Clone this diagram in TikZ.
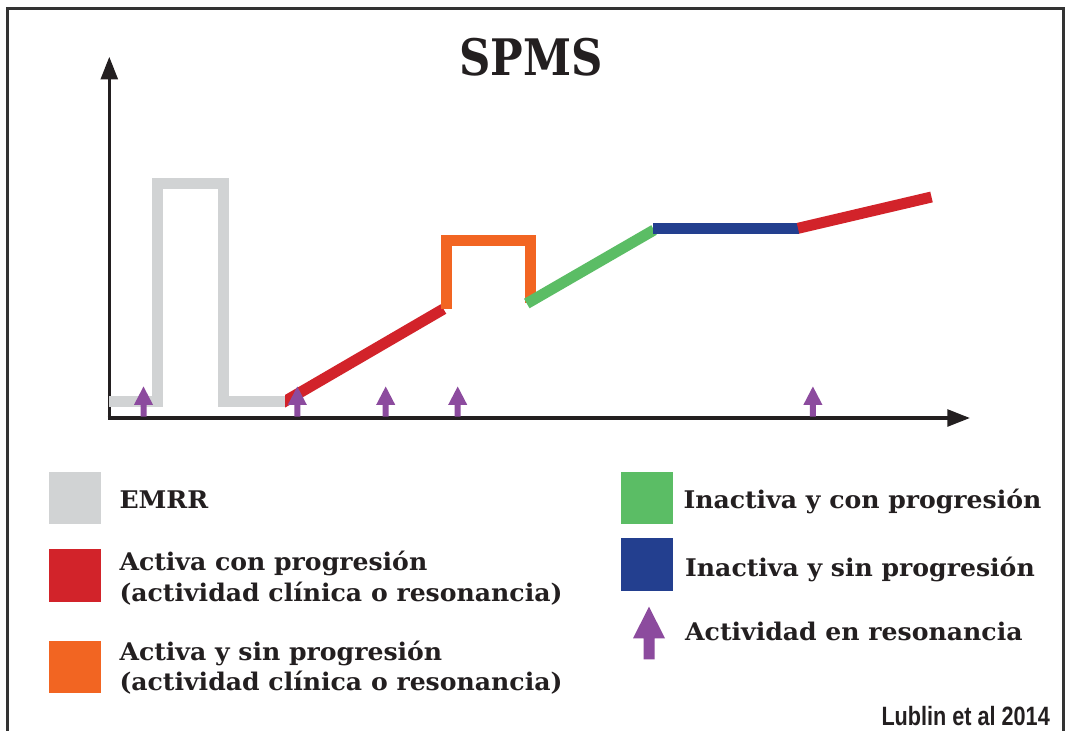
\documentclass[tikz,border=0pt]{standalone}
\usepackage{fontspec}
\usepackage{graphicx}
\setmainfont{DejaVu Serif}
\newfontfamily\lubfont{Liberation Sans}
\usetikzlibrary{arrows.meta}
\definecolor{ink}{HTML}{231F20}
\definecolor{frame}{HTML}{333333}
\definecolor{emrr}{HTML}{D1D3D4}
\definecolor{actprog}{HTML}{D2232A}
\definecolor{actnoprog}{HTML}{F26522}
\definecolor{inactprog}{HTML}{5BBD65}
\definecolor{inactnoprog}{HTML}{233F8F}
\definecolor{mripurple}{HTML}{8C4B9E}
\newlength\legw
\newcommand\legfont{\fontsize{24.3}{30}\selectfont\bfseries}
\newcommand\legtxt[1]{\scalebox{\hs}[1]{\legfont #1}}
\tikzset{
  seg/.style={line width=11pt, line cap=butt, line join=miter},
  axisline/.style={ink, line width=3.5pt, -{Triangle[length=22.7pt,width=16.7pt]}},
  legtext/.style={anchor=base west, inner sep=0pt, text=ink},
  mri/.pic={\fill[mripurple] (-3,0) -- (-3,-11.7) -- (-9.5,-11.7) -- (0,-30) -- (9.5,-11.7) -- (3,-11.7) -- (3,0) -- cycle;},
  mribig/.pic={\fill[mripurple] (-5.5,0) -- (-5.5,-21) -- (-16,-21) -- (0,-52.6) -- (16,-21) -- (5.5,-21) -- (5.5,0) -- cycle;}
}
\begin{document}
\settowidth\legw{\legfont (actividad clínica o resonancia)}%
\pgfmathsetmacro\hs{443/\legw}%
\begin{tikzpicture}[x=1pt,y=-1pt]
\useasboundingbox (0,0) rectangle (1066,731);
\fill[white] (0,0) rectangle (1066,731);
% frame
\draw[frame, line width=3pt, line join=miter] (7.5,740) -- (7.5,8.7) -- (1063.5,8.7) -- (1063.5,740);
% title
\node[anchor=base, inner sep=0pt, text=ink] (title) at (531,75) {\resizebox{143.4pt}{\height}{\fontsize{50.3}{60}\selectfont\bfseries SPMS}};
% axes
\coordinate (origin) at (109.3,418);
\coordinate (ytip) at (109.3,56.7);
\coordinate (xtip) at (970,418);
\draw[axisline] (109.3,419.8) -- (ytip);
\draw[axisline] (107.5,418) -- (xtip);
% EMRR
\draw[seg, emrr] (109.3,401.3) -- (157,401.3) -- (157,183.3) -- (223,183.3) -- (223,401.3) -- (285,401.3);
% active with progression
\begin{scope}
\clip (285,0) rectangle (1066,731);
\draw[seg, actprog] (279.8,404.3) -- (443.5,309);
\end{scope}
% active without progression
\draw[seg, actnoprog] (446.4,309.3) -- (446.4,240.5) -- (530.3,240.5) -- (530.3,303.3);
% inactive with progression
\draw[seg, inactprog] (526.8,303.5) -- (654,230);
% inactive without progression
\draw[seg, inactnoprog] (653,228.3) -- (799,228.3);
% active with progression
\draw[seg, actprog] (798,228.3) -- (931.5,197);
% MRI activity arrows
\foreach \ax in {143.5,297.3,385.7,457.7,812.9} \pic at (\ax,416.5) {mri};
% legend
\fill[emrr] (49,472.3) rectangle (101,524.3);
\fill[actprog] (49,549.3) rectangle (101,601.7);
\fill[actnoprog] (49,641) rectangle (101,693.3);
\fill[inactprog] (621,472.3) rectangle (672.7,524.3);
\fill[inactnoprog] (621,538.3) rectangle (672.7,590.7);
\pic at (649,659.3) {mribig};
\node[legtext] (l1) at (119.3,508.3) {\legtxt{EMRR}};
\node[legtext] (l2a) at (119.3,570) {\legtxt{Activa con progresión}};
\node[legtext] (l2b) at (119.3,601.7) {\legtxt{(actividad clínica o resonancia)}};
\node[legtext] (l3a) at (119.3,660) {\legtxt{Activa y sin progresión}};
\node[legtext] (l3b) at (119.3,690.5) {\legtxt{(actividad clínica o resonancia)}};
\node[legtext] (l4) at (683.3,508.3) {\legtxt{Inactiva y con progresión}};
\node[legtext] (l5) at (685,576.7) {\legtxt{Inactiva y sin progresión}};
\node[legtext] (l6) at (685,640) {\legtxt{Actividad en resonancia}};
\node[anchor=base east, inner sep=0pt, text=ink] (source) at (1050,725) {\resizebox{168.3pt}{\height}{\lubfont\fontsize{26.5}{30}\selectfont\bfseries Lublin et al 2014}};
\end{tikzpicture}
\end{document}
